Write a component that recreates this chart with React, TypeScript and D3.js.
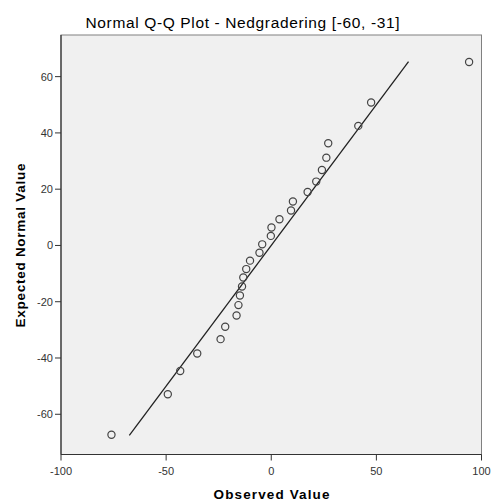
import React from "react";
import * as d3 from "d3";

const observed = [-76.0, -49.2, -43.3, -35.2, -24.1, -21.9, -16.5, -15.6, -14.9, -13.9, -13.3, -11.9, -10.1, -5.6, -4.3, -0.2, 0.1, 3.9, 9.4, 10.3, 17.3, 21.4, 24.1, 26.2, 27.1, 41.4, 47.5, 94.1];
const expected = [-67.3, -52.9, -44.6, -38.4, -33.3, -28.9, -24.9, -21.2, -17.8, -14.6, -11.4, -8.4, -5.4, -2.6, 0.4, 3.4, 6.4, 9.3, 12.4, 15.6, 19.0, 22.7, 26.8, 31.2, 36.3, 42.5, 50.8, 65.2];
const refLine = [-67.5, 65.3];
const xTicks = [-100, -50, 0, 50, 100];
const yTicks = [-60, -40, -20, 0, 20, 40, 60];

const title = "Normal Q-Q Plot - Nedgradering [-60, -31]";
const xLabel = "Observed Value";
const yLabel = "Expected Normal Value";

export default function App() {
  const W = 491, H = 502;
  const left = 61, right = 481.5, top = 35, bottom = 454.5;
  const x = d3.scaleLinear().domain([-100, 100]).range([left, right]);
  const y = d3.scaleLinear().domain([-74.3, 74.8]).range([bottom, top]);
  const line = d3.line<number>().x((d) => x(d)).y((d) => y(d));
  const font = "Arial, 'Liberation Sans', sans-serif";

  return (
    <svg width={W} height={H} style={{ position: "absolute", left: 0, top: 0 }} fontFamily={font}>
      <rect x={0} y={0} width={W} height={H} fill="#ffffff" />
      <text x={242.5} y={28} textAnchor="middle" fontSize={15.5} fill="#000" textLength={314} lengthAdjust="spacing">{title}</text>
      <rect x={left} y={top} width={right - left} height={bottom - top} fill="#f0f0f0" stroke="#808080" strokeWidth={1} />
      <line x1={left} y1={top} x2={left} y2={bottom} stroke="#333" strokeWidth={1.2} />
      <line x1={left} y1={bottom} x2={right} y2={bottom} stroke="#333" strokeWidth={1.2} />
      {xTicks.map((t) => (
        <g key={"x" + t}>
          <line x1={x(t)} x2={x(t)} y1={bottom} y2={bottom + 6} stroke="#333" />
          <text x={x(t)} y={475} textAnchor="middle" fontSize={11} fill="#333">{t}</text>
        </g>
      ))}
      {yTicks.map((t) => (
        <g key={"y" + t}>
          <line x1={left - 6} x2={left} y1={y(t)} y2={y(t)} stroke="#333" />
          <text x={53} y={y(t) + 4} textAnchor="end" fontSize={11} fill="#333">{t}</text>
        </g>
      ))}
      <path d={line(refLine) || ""} stroke="#222" strokeWidth={1.3} fill="none" />
      {observed.map((o, i) => (
        <circle key={i} cx={x(o)} cy={y(expected[i])} r={3.6} fill="none" stroke="#444" strokeWidth={1.2} />
      ))}
      <text x={271.5} y={499} textAnchor="middle" fontSize={13.5} fontWeight="bold" fill="#000" textLength={116} lengthAdjust="spacing">{xLabel}</text>
      <text transform={`translate(25,245.5) rotate(-90)`} textAnchor="middle" fontSize={13.5} fontWeight="bold" fill="#000" textLength={164} lengthAdjust="spacing">{yLabel}</text>
    </svg>
  );
}
